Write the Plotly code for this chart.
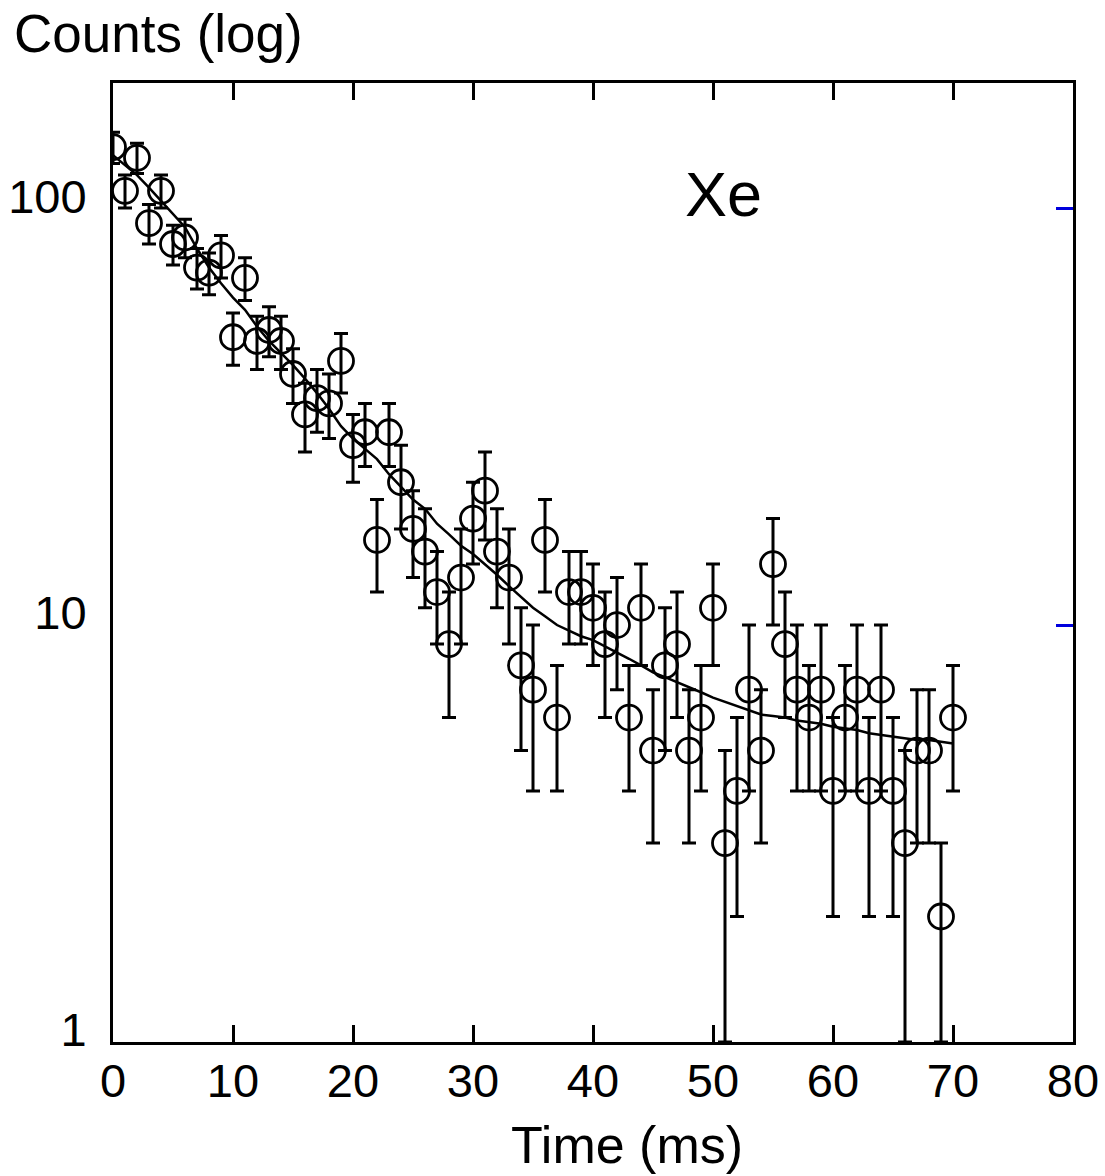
import math
import plotly.graph_objects as go

# Xe decay, counts per 1 ms bin
time_ms = list(range(71))
counts = [140, 110, 132, 92, 110, 82, 85, 72, 70, 77,
          49, 68, 48, 51, 48, 40, 32, 35, 34, 43,
          27, 29, 16, 29, 22, 17, 15, 12, 9, 13,
          18, 21, 15, 13, 8, 7, 16, 6, 12, 12,
          11, 9, 10, 6, 11, 5, 8, 9, 5, 6,
          11, 3, 4, 7, 5, 14, 9, 7, 6, 7,
          4, 6, 7, 4, 7, 4, 3, 5, 5, 2, 6]
errors = [12, 10, 11, 10, 10, 9, 9, 8, 8, 9,
          7, 8, 7, 7, 7, 6, 6, 6, 6, 7,
          5, 5, 4, 5, 5, 4, 4, 3, 3, 4,
          4, 5, 4, 4, 3, 3, 4, 2, 3, 3,
          3, 3, 3, 2, 3, 2, 3, 3, 2, 2,
          3, 2, 2, 3, 2, 4, 3, 3, 2, 3,
          2, 2, 3, 2, 3, 2, 2, 2, 2, 1, 2]
# fitted curve
fit = [134, 127, 120, 112, 104, 97, 90, 80, 72, 66,
       61, 57, 52, 48, 45, 42, 39, 36, 33, 30,
       28, 26.5, 25, 23, 21.5, 20, 19, 17.5, 16.5, 15.5,
       14.8, 14, 13.2, 12.4, 11.7, 11, 10.5, 10, 9.7, 9.4,
       9.2, 8.9, 8.6, 8.3, 8.0, 7.7, 7.5, 7.3, 7.1, 6.9,
       6.7, 6.55, 6.4, 6.25, 6.1, 6.05, 6.0, 5.9, 5.85, 5.8,
       5.7, 5.65, 5.6, 5.5, 5.45, 5.4, 5.35, 5.3, 5.3, 5.25, 5.2]

x_ticks = [0, 10, 20, 30, 40, 50, 60, 70, 80]
y_ticks = [1, 10, 100]

FONT = "Liberation Sans, Arial, Helvetica, sans-serif"

# clip lower bars at the axis (count 1)
err_minus = [min(e, c - 1) for c, e in zip(counts, errors)]

fig = go.Figure()

fig.add_trace(go.Scatter(
    x=time_ms, y=fit,
    mode='lines',
    line=dict(color='black', width=2.5),
    hoverinfo='skip',
))

fig.add_trace(go.Scatter(
    x=time_ms, y=counts,
    mode='markers',
    marker=dict(symbol='circle-open', size=25, color='black',
                line=dict(color='black', width=2.8)),
    error_y=dict(type='data', array=errors, arrayminus=err_minus,
                 symmetric=False, color='black', thickness=3, width=7),
))

# empty traces so the top axis and the blue right ticks get drawn
fig.add_trace(go.Scatter(x=[], y=[], xaxis='x2', showlegend=False))
fig.add_trace(go.Scatter(x=[], y=[], yaxis='y2', showlegend=False))

fig.update_layout(
    width=1105, height=1176,
    margin=dict(l=113, r=32, t=83, b=134, autoexpand=False),
    paper_bgcolor='white', plot_bgcolor='white',
    showlegend=False,
    font=dict(family=FONT, size=47, color='black'),
    xaxis=dict(
        range=[0, 80], tickvals=x_ticks, automargin=False,
        ticks='inside', ticklen=17, tickwidth=3, tickcolor='black',
        showline=True, linecolor='black', linewidth=3, mirror=True,
        showgrid=False, zeroline=False,
        tickfont=dict(size=47), ticklabelstandoff=-4,
    ),
    xaxis2=dict(
        range=[0, 80], tickvals=x_ticks, overlaying='x', side='top',
        ticks='inside', ticklen=17, tickwidth=3, tickcolor='black',
        showticklabels=False, showline=False, showgrid=False,
        zeroline=False, automargin=False,
    ),
    yaxis=dict(
        type='log', range=[0, 2.30], tickvals=y_ticks,
        ticktext=[str(v) for v in y_ticks], automargin=False,
        ticks='', showline=True, linecolor='black', linewidth=3, mirror=True,
        showgrid=False, zeroline=False,
        tickfont=dict(size=47), ticklabelstandoff=14, ticklabelshift=-12,
    ),
    yaxis2=dict(
        type='log', range=[0, 2.30], overlaying='y', side='right',
        tickvals=[10, 100], ticks='inside', ticklen=17, tickwidth=3,
        tickcolor='#0000dd', showticklabels=False, showline=False,
        showgrid=False, zeroline=False, automargin=False,
    ),
    annotations=[
        dict(text='Counts (log)', xref='paper', yref='paper',
             x=(12 - 113) / 960, y=1 + (83 - 33) / 959,
             xanchor='left', yanchor='middle',
             showarrow=False, font=dict(size=53)),
        dict(text='Time (ms)', xref='paper', yref='paper',
             x=(627 - 113) / 960, y=-(1145 - 1042) / 959,
             xanchor='center', yanchor='middle',
             showarrow=False, font=dict(size=52)),
        dict(text='Xe', x=50.9, y=math.log10(108), xref='x', yref='y',
             xanchor='center', yanchor='middle', showarrow=False,
             font=dict(size=63)),
    ],
)

# drop the browser's default 8px page margin so the figure sits at 0,0
fig.write_html("out.html",
               config={'displayModeBar': False},
               post_script="document.body.style.margin='0';"
                           "document.body.style.overflow='hidden';")
